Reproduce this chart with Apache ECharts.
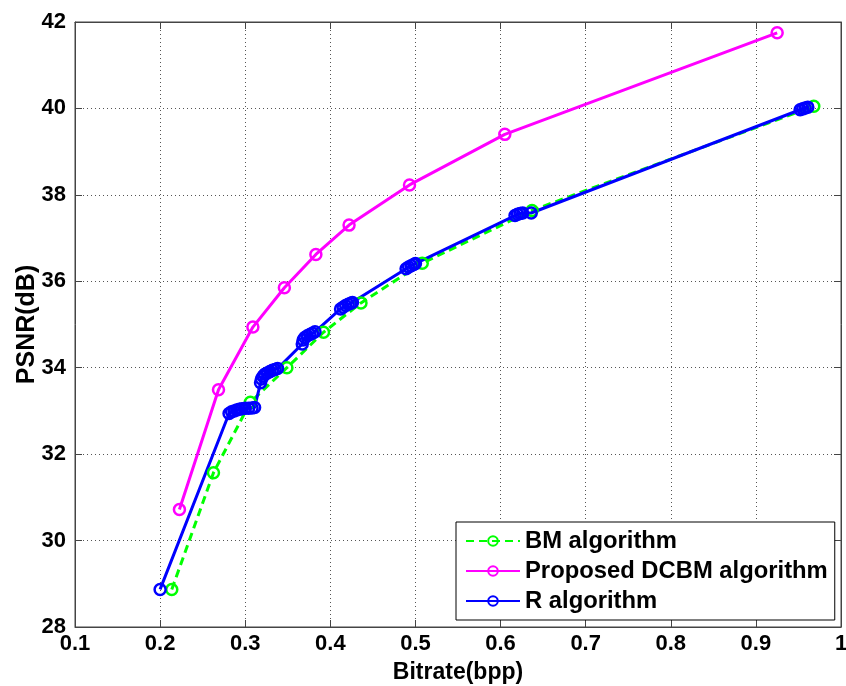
<!DOCTYPE html>
<html>
<head>
<meta charset="utf-8">
<script src="https://cdn.jsdelivr.net/npm/echarts@6/dist/echarts.min.js"></script>
<style>
html,body{margin:0;padding:0;background:#fff;}
#chart{width:846px;height:686px;}
</style>
</head>
<body>
<div id="chart"></div>
<script>
// values: [bitrate, psnr]
let bmData=[[0.2137,28.87],[0.2627,31.57],[0.306,33.2],[0.349,34.0],[0.392,34.82],[0.436,35.5],[0.508,36.42],[0.637,37.64],[0.968,40.05]];
let dcbmData=[[0.2227,30.72],[0.2686,33.49],[0.309,34.94],[0.346,35.85],[0.383,36.62],[0.422,37.30],[0.493,38.23],[0.605,39.4],[0.925,41.75]];
let rData=[[0.2,28.87],
    [0.281,32.94],[0.284,32.98],[0.287,33.0],[0.29,33.02],[0.293,33.04],[0.296,33.05],[0.3,33.06],[0.304,33.06],[0.308,33.07],[0.311,33.08],
    [0.318,33.65],[0.319,33.74],[0.321,33.8],[0.323,33.85],[0.326,33.88],[0.329,33.91],[0.332,33.94],[0.335,33.96],[0.338,33.98],
    [0.367,34.55],[0.368,34.64],[0.37,34.7],[0.373,34.74],[0.376,34.77],[0.379,34.8],[0.382,34.83],
    [0.412,35.36],[0.415,35.4],[0.418,35.44],[0.421,35.47],[0.424,35.49],[0.426,35.51],
    [0.489,36.29],[0.492,36.33],[0.495,36.36],[0.498,36.39],[0.5,36.41],
    [0.617,37.52],[0.62,37.55],[0.623,37.57],[0.626,37.58],[0.636,37.58],
    [0.952,39.97],[0.955,39.99],[0.958,40.01],[0.961,40.03]];
let seriesNames=['BM algorithm','Proposed DCBM algorithm','R algorithm'];
let seriesColors=['#00ff00','#ff00ff','#0000ff'];
let xTicks={min:0.1,max:1,interval:0.1};
let yTicks={min:28,max:42,interval:2};

let font='"Liberation Sans", Arial, sans-serif';
let axisColor='#444';

function mkSeries(name, data, color, dashed){
    return {
        name:name,
        type:'line',
        data:data,
        symbol:'circle',
        symbolSize:11,
        showAllSymbol:true,
        lineStyle:{color:color, width:3, type:dashed?[8,5]:'solid'},
        itemStyle:{color:'rgba(255,255,255,0)', borderColor:color, borderWidth:2.5},
        emphasis:{disabled:true},
        animation:false
    };
}

let chart=echarts.init(document.getElementById('chart'));
let option={
    animation:false,
    grid:{left:75, right:5, top:22, bottom:59, outerBoundsMode:'none',
        show:true, borderColor:axisColor, borderWidth:1, backgroundColor:'#fff'},
    legend:{
        data:seriesNames,
        orient:'vertical',
        left:456,
        top:522,
        padding:[7,7,7,9],
        itemWidth:54,
        itemHeight:12,
        itemGap:6,
        backgroundColor:'#fff',
        borderColor:'#000',
        borderWidth:1,
        textStyle:{color:'#000', fontFamily:font, fontWeight:'bold', fontSize:23.8, lineHeight:24}
    },
    xAxis:[{
        type:'value',
        min:xTicks.min, max:xTicks.max, interval:xTicks.interval,
        name:'Bitrate(bpp)',
        nameLocation:'middle',
        nameGap:34,
        nameMoveOverlap:false,
        nameTextStyle:{color:'#000', fontFamily:font, fontWeight:'bold', fontSize:23},
        axisLine:{lineStyle:{color:axisColor}},
        axisTick:{inside:true, length:7, lineStyle:{color:axisColor}},
        axisLabel:{color:'#000', fontFamily:font, fontWeight:'bold', fontSize:22, margin:6,
            formatter:function(v){return String(+v.toFixed(1));}},
        splitLine:{show:true, lineStyle:{color:'#555', type:[1,3], width:1}}
    },{
        type:'value', position:'top',
        min:xTicks.min, max:xTicks.max, interval:xTicks.interval,
        axisLine:{lineStyle:{color:axisColor}},
        axisTick:{inside:true, length:7, lineStyle:{color:axisColor}},
        axisLabel:{show:false},
        splitLine:{show:false}
    }],
    yAxis:[{
        type:'value',
        min:yTicks.min, max:yTicks.max, interval:yTicks.interval,
        name:'PSNR(dB)',
        nameLocation:'middle',
        nameGap:35,
        nameMoveOverlap:false,
        nameTextStyle:{color:'#000', fontFamily:font, fontWeight:'bold', fontSize:25},
        axisLine:{show:true, lineStyle:{color:axisColor}},
        axisTick:{show:true, inside:true, length:7, lineStyle:{color:axisColor}},
        axisLabel:{color:'#000', fontFamily:font, fontWeight:'bold', fontSize:22, margin:9},
        splitLine:{show:true, lineStyle:{color:'#555', type:[1,3], width:1}}
    },{
        type:'value', position:'right',
        min:yTicks.min, max:yTicks.max, interval:yTicks.interval,
        axisLine:{show:true, lineStyle:{color:axisColor}},
        axisTick:{show:true, inside:true, length:7, lineStyle:{color:axisColor}},
        axisLabel:{show:false},
        splitLine:{show:false}
    }],
    series:[
        mkSeries(seriesNames[0], bmData, seriesColors[0], true),
        mkSeries(seriesNames[1], dcbmData, seriesColors[1], false),
        mkSeries(seriesNames[2], rData, seriesColors[2], false)
    ]
};
chart.setOption(option);
</script>
</body>
</html>
